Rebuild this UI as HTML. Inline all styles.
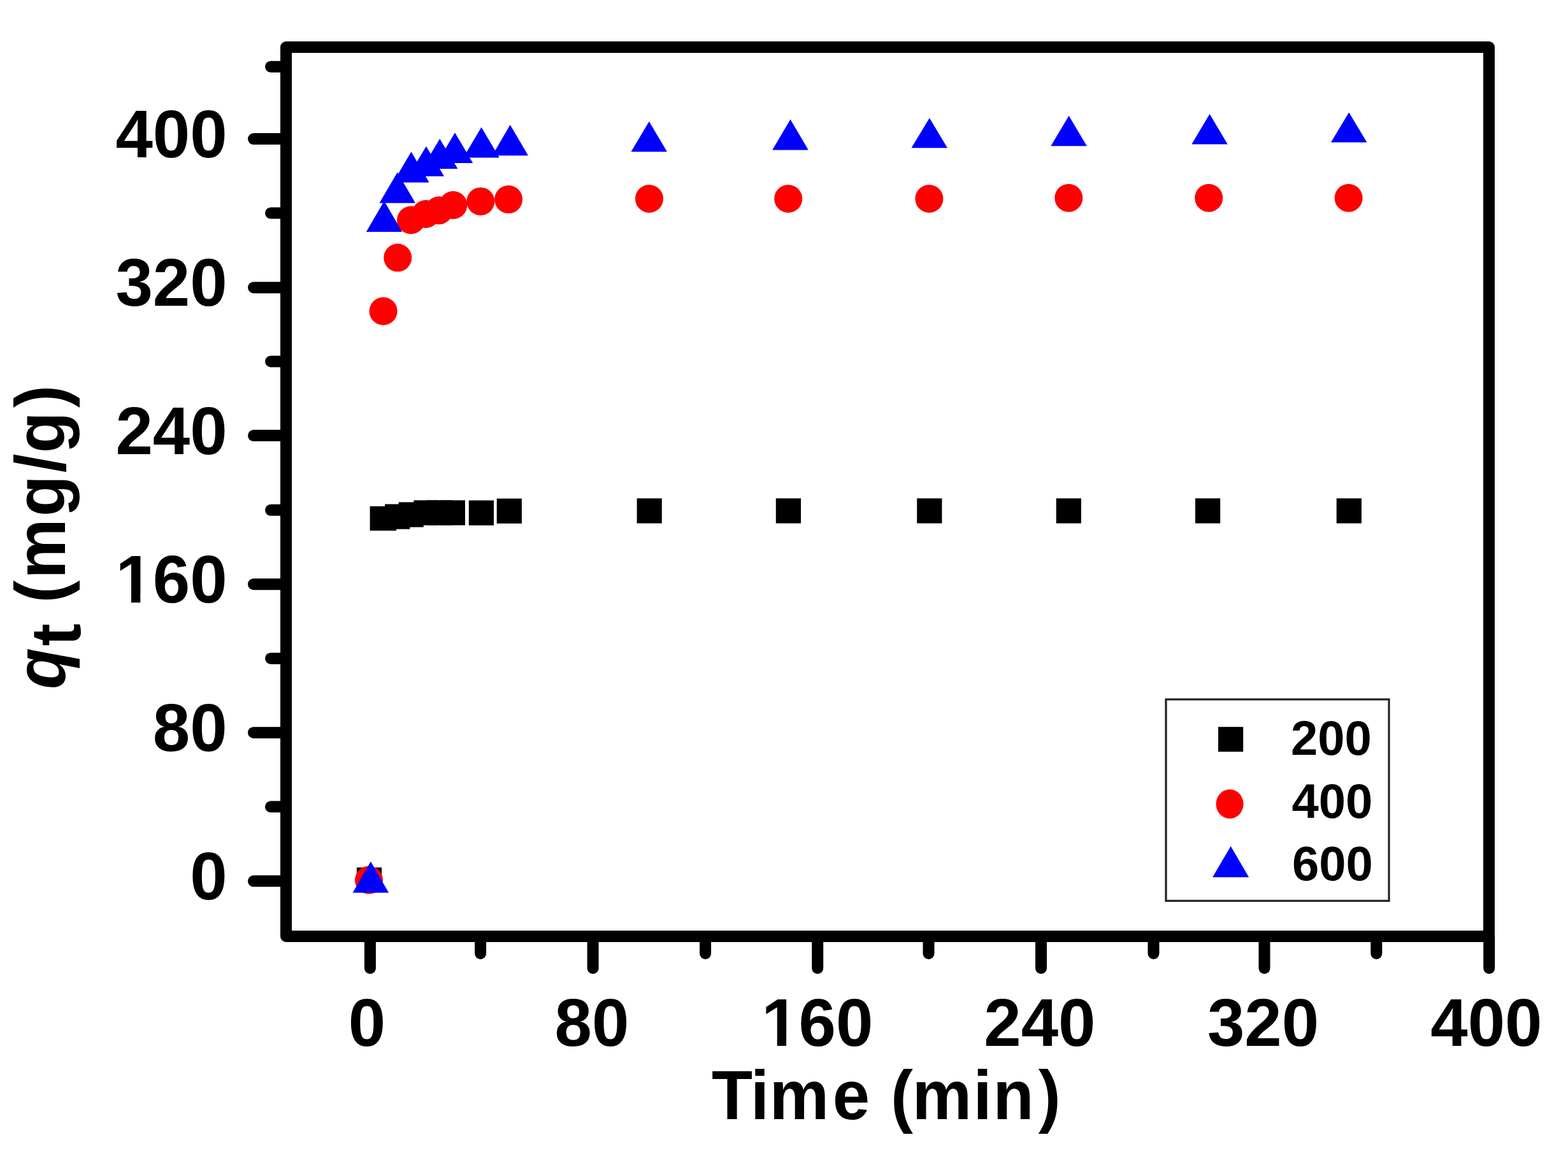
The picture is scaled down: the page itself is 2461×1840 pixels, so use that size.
<!DOCTYPE html>
<html><head><meta charset="utf-8"><style>
html,body{margin:0;padding:0;background:#fff;}
body{width:2461px;height:1840px;overflow:hidden;}
svg{display:block;}
.t{font-family:"Liberation Sans",Arial,sans-serif;font-weight:bold;font-size:105px;fill:#000;}
.l{font-family:"Liberation Sans",Arial,sans-serif;font-weight:bold;font-size:76px;fill:#000;}
</style></head><body>
<svg width="2461" height="1840" viewBox="0 0 2461 1840">
<rect width="2461" height="1840" fill="#fff"/>
<path d="M449,74 H2337 V1470 H449 Z" fill="none" stroke="#000" stroke-width="18" stroke-linejoin="round"/>
<line x1="398" y1="1383.3" x2="449" y2="1383.3" stroke="#000" stroke-width="18" stroke-linecap="round"/>
<line x1="398" y1="1150.2" x2="449" y2="1150.2" stroke="#000" stroke-width="18" stroke-linecap="round"/>
<line x1="398" y1="917.2" x2="449" y2="917.2" stroke="#000" stroke-width="18" stroke-linecap="round"/>
<line x1="398" y1="683.8" x2="449" y2="683.8" stroke="#000" stroke-width="18" stroke-linecap="round"/>
<line x1="398" y1="451.4" x2="449" y2="451.4" stroke="#000" stroke-width="18" stroke-linecap="round"/>
<line x1="398" y1="218.1" x2="449" y2="218.1" stroke="#000" stroke-width="18" stroke-linecap="round"/>
<line x1="425" y1="1266.6" x2="449" y2="1266.6" stroke="#000" stroke-width="18" stroke-linecap="round"/>
<line x1="425" y1="1033.7" x2="449" y2="1033.7" stroke="#000" stroke-width="18" stroke-linecap="round"/>
<line x1="425" y1="800.8" x2="449" y2="800.8" stroke="#000" stroke-width="18" stroke-linecap="round"/>
<line x1="425" y1="567.5" x2="449" y2="567.5" stroke="#000" stroke-width="18" stroke-linecap="round"/>
<line x1="425" y1="334.6" x2="449" y2="334.6" stroke="#000" stroke-width="18" stroke-linecap="round"/>
<line x1="425" y1="104.7" x2="449" y2="104.7" stroke="#000" stroke-width="18" stroke-linecap="round"/>
<line x1="580.9" y1="1470" x2="580.9" y2="1520" stroke="#000" stroke-width="18" stroke-linecap="round"/>
<line x1="930.6" y1="1470" x2="930.6" y2="1520" stroke="#000" stroke-width="18" stroke-linecap="round"/>
<line x1="1283.2" y1="1470" x2="1283.2" y2="1520" stroke="#000" stroke-width="18" stroke-linecap="round"/>
<line x1="1634" y1="1470" x2="1634" y2="1520" stroke="#000" stroke-width="18" stroke-linecap="round"/>
<line x1="1984.5" y1="1470" x2="1984.5" y2="1520" stroke="#000" stroke-width="18" stroke-linecap="round"/>
<line x1="2337.2" y1="1470" x2="2337.2" y2="1520" stroke="#000" stroke-width="18" stroke-linecap="round"/>
<line x1="754.1" y1="1470" x2="754.1" y2="1497" stroke="#000" stroke-width="18" stroke-linecap="round"/>
<line x1="1107.1" y1="1470" x2="1107.1" y2="1497" stroke="#000" stroke-width="18" stroke-linecap="round"/>
<line x1="1457.5" y1="1470" x2="1457.5" y2="1497" stroke="#000" stroke-width="18" stroke-linecap="round"/>
<line x1="1810.5" y1="1470" x2="1810.5" y2="1497" stroke="#000" stroke-width="18" stroke-linecap="round"/>
<line x1="2160.3" y1="1470" x2="2160.3" y2="1497" stroke="#000" stroke-width="18" stroke-linecap="round"/>
<text class="t" x="298.2" y="1412.2">0</text>
<text class="t" x="239.8" y="1179.1">80</text>
<clipPath id="c1" clipPathUnits="userSpaceOnUse"><rect x="161.4" y="746.1" width="215.2" height="187.7"/><rect x="205.9" y="932.9" width="14.4" height="22.7"/><rect x="240.8" y="932.9" width="60.4" height="22.7"/><rect x="299.2" y="932.9" width="60.4" height="22.7"/></clipPath>
<text class="t" x="181.4" y="946.1" clip-path="url(#c1)">160</text>
<text class="t" x="181.4" y="712.7">240</text>
<text class="t" x="181.4" y="480.3">320</text>
<text class="t" x="181.4" y="247.0">400</text>
<text class="t" x="546.7" y="1642.0">0</text>
<text class="t" x="870.6" y="1642.0">80</text>
<clipPath id="c2" clipPathUnits="userSpaceOnUse"><rect x="1175.2" y="1442.0" width="215.2" height="187.7"/><rect x="1219.7" y="1628.8" width="14.4" height="22.7"/><rect x="1254.6" y="1628.8" width="60.4" height="22.7"/><rect x="1313.0" y="1628.8" width="60.4" height="22.7"/></clipPath>
<text class="t" x="1195.2" y="1642.0" clip-path="url(#c2)">160</text>
<text class="t" x="1544.3" y="1642.0">240</text>
<text class="t" x="1894.9" y="1642.0">320</text>
<text class="t" x="2245.3" y="1642.0">400</text>
<text class="t" style="font-size:105px" transform="translate(0,1756.6) scale(1,1.035)" x="1117.1 1177.9 1207.7 1306.8 1365.2 1398.1 1431.8 1527.6 1558.4 1629.8" y="0">Time (min)</text>
<text class="t" style="font-size:106px" transform="translate(101.5,0) rotate(-90) scale(1,1.05)" y="0"><tspan x="-1081.9" font-style="italic">q</tspan><tspan x="-1014.3" dy="23">t</tspan><tspan x="-979.0 -946.4 -908.7 -811.1 -742.0 -711.3 -640.0" dy="-23"> (mg/g)</tspan></text>
<rect x="580.6" y="794.8" width="41.5" height="38.3" fill="#000"/>
<rect x="559.9" y="1361.9" width="39.2" height="39.2" fill="#000"/>
<rect x="604.1" y="791.5" width="39.2" height="39.2" fill="#000"/>
<rect x="625.6" y="788.4" width="39.2" height="39.2" fill="#000"/>
<rect x="649.4" y="785.4" width="39.2" height="39.2" fill="#000"/>
<rect x="670.4" y="785.4" width="39.2" height="39.2" fill="#000"/>
<rect x="690.8" y="785.4" width="39.2" height="39.2" fill="#000"/>
<rect x="735.8" y="785.6" width="39.2" height="39.2" fill="#000"/>
<rect x="779.7" y="782.7" width="39.2" height="39.2" fill="#000"/>
<rect x="999.6" y="782.4" width="39.2" height="39.2" fill="#000"/>
<rect x="1217.8" y="782.4" width="39.2" height="39.2" fill="#000"/>
<rect x="1439.2" y="782.4" width="39.2" height="39.2" fill="#000"/>
<rect x="1657.7" y="782.4" width="39.2" height="39.2" fill="#000"/>
<rect x="1876.0" y="782.4" width="39.2" height="39.2" fill="#000"/>
<rect x="2097.7" y="782.4" width="39.2" height="39.2" fill="#000"/>
<circle cx="579" cy="1381.6" r="22.0" fill="#f00"/>
<circle cx="601.6" cy="488.5" r="22.0" fill="#f00"/>
<circle cx="624.2" cy="404.6" r="22.0" fill="#f00"/>
<circle cx="645" cy="345.5" r="22.0" fill="#f00"/>
<circle cx="668.3" cy="336" r="22.0" fill="#f00"/>
<circle cx="689" cy="330.3" r="22.0" fill="#f00"/>
<circle cx="711.3" cy="322" r="22.0" fill="#f00"/>
<circle cx="754.3" cy="316.2" r="22.0" fill="#f00"/>
<circle cx="798.1" cy="313.1" r="22.0" fill="#f00"/>
<circle cx="1019" cy="312" r="22.0" fill="#f00"/>
<circle cx="1237.2" cy="312" r="22.0" fill="#f00"/>
<circle cx="1458.4" cy="312" r="22.0" fill="#f00"/>
<circle cx="1677.3" cy="310.8" r="22.0" fill="#f00"/>
<circle cx="1897.2" cy="310.8" r="22.0" fill="#f00"/>
<circle cx="2116.6" cy="310.8" r="22.0" fill="#f00"/>
<path d="M581.9,1352.5 L610.1,1401.5 L553.6,1401.5 Z" fill="#00f"/>
<path d="M603.0,315.5 L631.2,363.9 L574.8,363.9 Z" fill="#00f"/>
<path d="M623.7,270.5 L652.0,318.8 L595.5,318.8 Z" fill="#00f"/>
<path d="M645.4,238.2 L673.6,286.4 L617.1,286.4 Z" fill="#00f"/>
<path d="M668.9,229.7 L697.1,276.7 L640.6,276.7 Z" fill="#00f"/>
<path d="M690.2,218.1 L718.5,265.1 L662.0,265.1 Z" fill="#00f"/>
<path d="M714.0,208.3 L742.2,255.9 L685.8,255.9 Z" fill="#00f"/>
<path d="M755.5,199.8 L783.8,247.4 L727.2,247.4 Z" fill="#00f"/>
<path d="M800.7,196.1 L829.0,244.3 L772.5,244.3 Z" fill="#00f"/>
<path d="M1018.8,190.7 L1047.0,238.2 L990.5,238.2 Z" fill="#00f"/>
<path d="M1240.5,187.6 L1268.8,235.4 L1212.2,235.4 Z" fill="#00f"/>
<path d="M1458.8,185.3 L1487.0,232.3 L1430.5,232.3 Z" fill="#00f"/>
<path d="M1677.6,181.8 L1705.8,229.2 L1649.3,229.2 Z" fill="#00f"/>
<path d="M1898.6,178.9 L1926.8,226.4 L1870.3,226.4 Z" fill="#00f"/>
<path d="M2117.2,176.6 L2145.4,223.6 L2088.9,223.6 Z" fill="#00f"/>
<rect x="1830" y="1098" width="350" height="316.3" fill="#fff" stroke="#222" stroke-width="3.2"/>
<rect x="1912" y="1141.2" width="39.2" height="39" fill="#000"/>
<ellipse cx="1930.1" cy="1262.2" rx="21.5" ry="23" fill="#f00"/>
<path d="M1931.7,1328.6 L1960.2,1377.3 L1903.1,1377.3 Z" fill="#00f"/>
<text class="l" x="2026" y="1185.4">200</text>
<text class="l" x="2027.5" y="1283.5">400</text>
<text class="l" x="2028" y="1382.2">600</text>
</svg>
</body></html>
